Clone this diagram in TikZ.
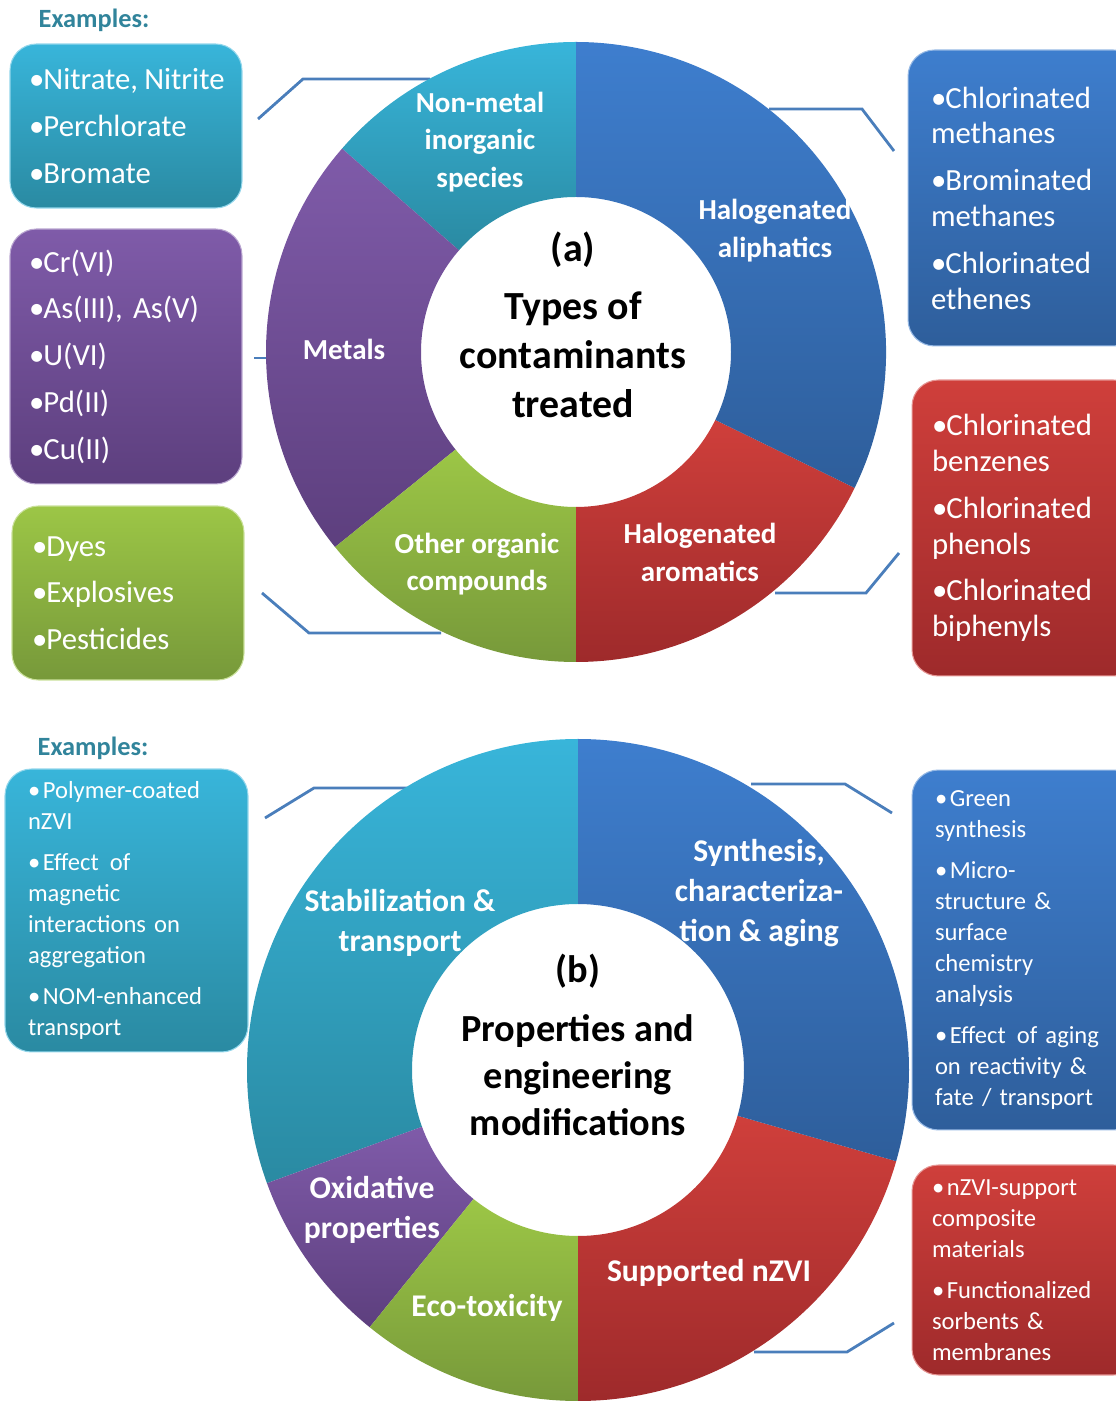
\documentclass[tikz,border=0pt]{standalone}
\usepackage{fontspec}
\setmainfont{Carlito}
\usetikzlibrary{positioning}

\definecolor{aquaTop}{HTML}{38B5DA}
\definecolor{aquaBot}{HTML}{2A8AA2}
\definecolor{steelTop}{HTML}{3E7ECE}
\definecolor{steelBot}{HTML}{2E5E9B}
\definecolor{brickTop}{HTML}{CF3F3B}
\definecolor{brickBot}{HTML}{9E2A2B}
\definecolor{limeTop}{HTML}{9CC646}
\definecolor{limeBot}{HTML}{77993A}
\definecolor{plumTop}{HTML}{7F5BA9}
\definecolor{plumBot}{HTML}{5D3F7E}
\definecolor{leadblue}{HTML}{4A7EBB}
\definecolor{exhead}{HTML}{31849B}

\tikzset{
  exbox/.style={top color=#1Top, bottom color=#1Bot, draw=#1Top!55!white,
    line width=0.6pt, rounded corners=15pt, align=left, text=white, inner ysep=0pt},
  exsmall/.style={font=\fontsize{17.5}{20.4}\selectfont},
  exlarge/.style={font=\fontsize{14}{17.6}\selectfont},
  seglabel/.style={text=white, align=center, inner sep=0pt,
    font=\fontsize{16.5}{21.5}\selectfont\bfseries},
  seglabelb/.style={seglabel, font=\fontsize{18}{22.7}\selectfont\bfseries},
  midtext/.style={align=center, inner sep=0pt, font=\bfseries},
  examples/.style={text=exhead, inner sep=0pt, font=\fontsize{15}{18}\selectfont\bfseries},
  lead/.style={draw=leadblue, line width=1.6pt},
}

% one sector of a ring, radii \Ro and \Ri
\newcommand{\ringseg}[3]{%
  \shade[top color=#3Top, bottom color=#3Bot] (#1:\Ro)
    arc[start angle=#1, end angle=#2, radius=\Ro] -- (#2:\Ri)
    arc[start angle=#2, end angle=#1, radius=\Ri] -- cycle;}
\newcommand{\bul}{•\kern-0.5pt}
\newcommand{\bulb}{•\kern1.5pt}

\begin{document}
\begin{tikzpicture}[x=0.02cm, y=0.02cm]
\useasboundingbox (0,0) rectangle (1116,1401);
\clip (0,0) rectangle (1116,1401);

%connectors (a)
\coordinate (nmA) at (258,1282);
\coordinate (nmB) at (303,1322);
\coordinate (nmC) at (430,1322);
\draw[lead] (nmA) -- (nmB) -- (nmC);
\coordinate (meA) at (254,1043);
\coordinate (meB) at (280,1043);
\draw[lead] (meA) -- (meB);
\coordinate (ooA) at (262,808);
\coordinate (ooB) at (309,768);
\coordinate (ooC) at (441,768);
\draw[lead] (ooA) -- (ooB) -- (ooC);
\coordinate (haA) at (769,1292);
\coordinate (haB) at (862,1292);
\coordinate (haC) at (894,1250);
\draw[lead] (haA) -- (haB) -- (haC);
\coordinate (arA) at (775,808);
\coordinate (arB) at (866,808);
\coordinate (arC) at (899,848);
\draw[lead] (arA) -- (arB) -- (arC);

%connectors (b)
\coordinate (stA) at (265,583);
\coordinate (stB) at (314,613);
\coordinate (stC) at (407,613);
\draw[lead] (stA) -- (stB) -- (stC);
\coordinate (syA) at (751,617);
\coordinate (syB) at (845,617);
\coordinate (syC) at (892,588);
\draw[lead] (syA) -- (syB) -- (syC);
\coordinate (suA) at (754,49);
\coordinate (suB) at (847,49);
\coordinate (suC) at (894,78);
\draw[lead] (suA) -- (suB) -- (suC);

%ring (a)
\begin{scope}[shift={(576,1049)}]
\def\Ro{310}\def\Ri{155}
\ringseg{90}{139}{aqua}
\ringseg{139}{219}{plum}
\ringseg{219}{270}{lime}
\ringseg{270}{334}{brick}
\ringseg{-26}{90}{steel}
\end{scope}

%ring (b)
\begin{scope}[shift={(578,331)}]
\def\Ro{331}\def\Ri{166}
\ringseg{90}{200}{aqua}
\ringseg{200}{231}{plum}
\ringseg{231}{270}{lime}
\ringseg{270}{344}{brick}
\ringseg{-16}{90}{steel}
\end{scope}

%sector labels (a)
\node[seglabel] (nonmetal) at (480,1259) {Non-metal\\inorganic\\species};
\node[seglabel] (aliph) at (775,1170) {Halogenated\\aliphatics};
\node[seglabel] (metals) at (344,1052) {Metals};
\node[seglabel] (organic) at (477,837) {Other organic\\compounds};
\node[seglabel] (arom) at (700,848.5) {Halogenated\\aromatics};
\node[midtext, font=\fontsize{22.7}{27.8}\selectfont\bfseries] (hubA) at (573,1076)
  {(a)\\[5pt]Types of\\contaminants\\treated};

%sector labels (b)
\node[seglabelb] (stab) at (400,478) {Stabilization \&\\transport};
\node[seglabelb] (synth) at (759,508) {Synthesis,\\characteriza-\\tion \& aging};
\node[seglabelb] (oxid) at (372,191) {Oxidative\\properties};
\node[seglabelb] (ecotox) at (487,93) {Eco-toxicity};
\node[seglabelb] (support) at (709,128) {Supported nZVI};
\node[midtext, font=\fontsize{21.8}{26.7}\selectfont\bfseries] (hubB) at (578,356)
  {(b)\\[7pt]Properties and\\engineering\\modifications};

%example boxes (a)
\node[examples] (exA) at (94,1381) {Examples:};
\node[exbox=aqua, exsmall, minimum height=3.28cm, inner xsep=0.38cm, text width=3.88cm]
  (inorgbox) at (126,1275) {\mbox{\bul Nitrate,\hspace{0.2em}Nitrite}\\[6.2pt]\bul Perchlorate\\[6.2pt]\bul Bromate};
\node[exbox=plum, exsmall, minimum height=5.10cm, inner xsep=0.38cm, text width=3.88cm]
  (metalbox) at (126,1044.5) {\bul Cr(VI)\\[6.2pt]\mbox{\bul As(III), As(V)}\\[6.2pt]\bul U(VI)\\[6.2pt]\bul Pd(II)\\[6.2pt]\bul Cu(II)};
\node[exbox=lime, exsmall, minimum height=3.48cm, inner xsep=0.40cm, text width=3.84cm]
  (orgbox) at (128,808) {\bul Dyes\\[6.2pt]\bul Explosives\\[6.2pt]\bul Pesticides};
\node[exbox=steel, exsmall, minimum height=5.92cm, inner xsep=0.46cm, text width=3.72cm]
  (aliphbox) at (1024,1203) {\bul Chlorinated\\methanes\\[6.2pt]\bul Brominated\\methanes\\[6.2pt]\bul Chlorinated\\ethenes};
\node[exbox=brick, exsmall, minimum height=5.92cm, inner xsep=0.40cm, text width=3.76cm]
  (arombox) at (1026,873) {\bul Chlorinated\\benzenes\\[6.2pt]\bul Chlorinated\\phenols\\[6.2pt]\bul Chlorinated\\biphenyls};

%example boxes (b)
\node[examples] (exB) at (93,653) {Examples:};
\node[exbox=aqua, exlarge, minimum height=5.66cm, inner xsep=0.46cm, text width=3.94cm]
  (stabbox) at (126.5,490.5) {\bulb Polymer-coated\\nZVI\\[5.7pt]\bulb Effect\hspace{0.45em}of\\magnetic\\interactions on\\aggregation\\[5.7pt]\bulb NOM-enhanced\\transport};
\node[exbox=steel, exlarge, minimum height=7.2cm, inner xsep=0.46cm, text width=3.64cm]
  (synthbox) at (1026,451) {\bulb Green\\synthesis\\[5.7pt]\bulb Micro-\\structure \&\\surface\\chemistry\\analysis\\[5.7pt]\bulb Effect\hspace{0.45em}of aging\\on reactivity \&\\fate / transport};
\node[exbox=brick, exlarge, minimum height=4.2cm, inner xsep=0.40cm, text width=3.76cm]
  (suppbox) at (1026,131) {\bulb nZVI-support\\composite\\materials\\[5.7pt]\bulb Functionalized\\sorbents \&\\membranes};
\end{tikzpicture}
\end{document}
